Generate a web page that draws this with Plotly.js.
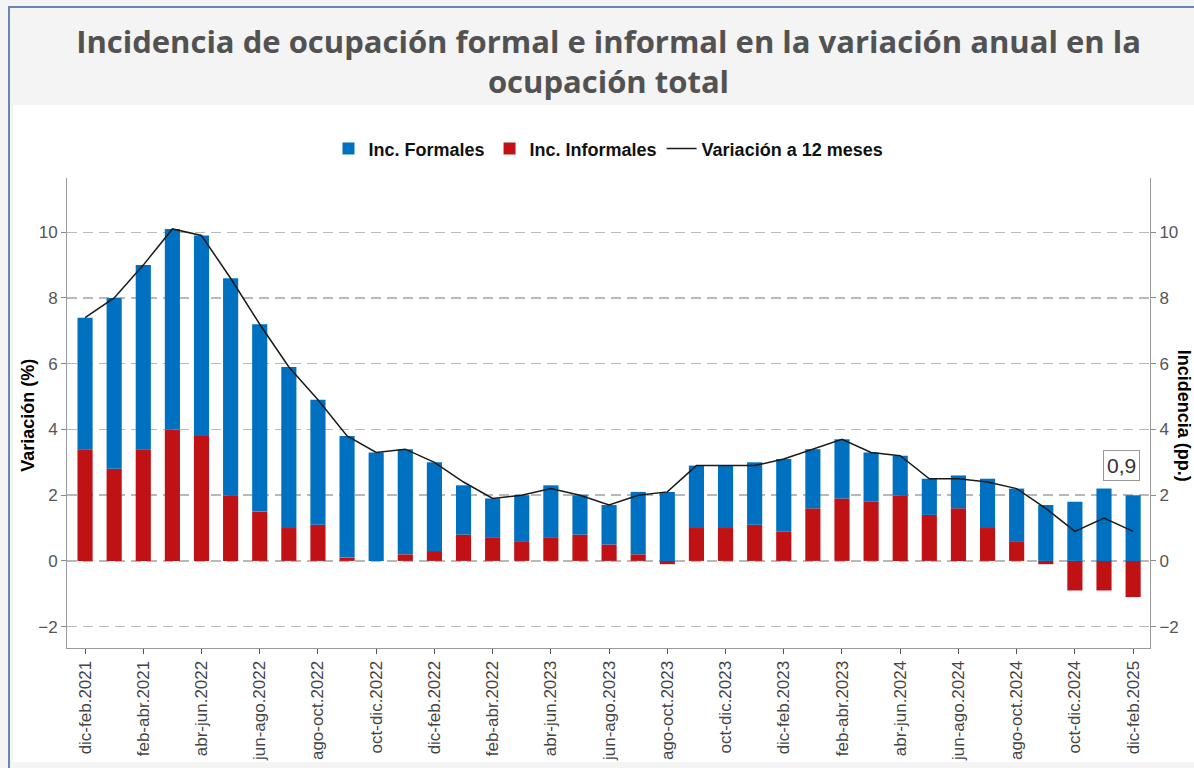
<!DOCTYPE html>
<html>
<head>
<meta charset="utf-8">
<script src="https://cdn.plot.ly/plotly-3.0.1.min.js"></script>
<style>
  html, body { margin: 0; padding: 0; background: #f4f4f4; }
  #frame { position: absolute; left: 8px; top: 6px; width: 1186px; height: 762px;
           border-left: 2px solid #6b85b5; border-top: 2px solid #6b85b5; box-sizing: border-box; }
  #white { position: absolute; left: 13px; top: 105px; width: 1181px; height: 657px; background: #ffffff; }
  #chart { position: absolute; left: 0; top: 0; width: 1194px; height: 768px; }
</style>
</head>
<body>
<div id="frame"></div>
<div id="white"></div>
<div id="chart"></div>
<script>
// Rolling quarters (tick labels as printed on the original chart)
const categories = [
  "dic-feb.2021","ene-mar.2021","feb-abr.2021","mar-may.2021","abr-jun.2022","may-jul.2022",
  "jun-ago.2022","jul-sep.2022","ago-oct.2022","sep-nov.2022","oct-dic.2022","nov-ene.2022",
  "dic-feb.2022","ene-mar.2022","feb-abr.2022","mar-may.2023","abr-jun.2023","may-jul.2023",
  "jun-ago.2023","jul-sep.2023","ago-oct.2023","sep-nov.2023","oct-dic.2023","nov-ene.2023",
  "dic-feb.2023","ene-mar.2023","feb-abr.2023","mar-may.2024","abr-jun.2024","may-jul.2024",
  "jun-ago.2024","jul-sep.2024","ago-oct.2024","sep-nov.2024","oct-dic.2024","nov-ene.2024",
  "dic-feb.2025"
];
const tickLabels = [
  "dic-feb.2021","feb-abr.2021","abr-jun.2022","jun-ago.2022","ago-oct.2022","oct-dic.2022",
  "dic-feb.2022","feb-abr.2022","abr-jun.2023","jun-ago.2023","ago-oct.2023","oct-dic.2023",
  "dic-feb.2023","feb-abr.2023","abr-jun.2024","jun-ago.2024","ago-oct.2024","oct-dic.2024",
  "dic-feb.2025"
];
// Incidence of formal employment (pp.)
const incFormales = [
  4.0,5.2,5.6,6.1,6.1,6.6,5.7,4.9,3.8,3.7,3.3,3.2,2.7,1.5,1.2,1.4,1.6,1.2,1.2,1.9,
  2.1,1.9,1.9,1.9,2.2,1.8,1.8,1.5,1.2,1.1,1.0,1.5,1.6,1.7,1.8,2.2,2.0
];
// Incidence of informal employment (pp.)
const incInformales = [
  3.4,2.8,3.4,4.0,3.8,2.0,1.5,1.0,1.1,0.1,0.0,0.2,0.3,0.8,0.7,0.6,0.7,0.8,0.5,0.2,
  -0.1,1.0,1.0,1.1,0.9,1.6,1.9,1.8,2.0,1.4,1.6,1.0,0.6,-0.1,-0.9,-0.9,-1.1
];
// Annual (12-month) variation of total employment (%)
const variacion12 = [
  7.4,8.0,9.0,10.1,9.9,8.6,7.2,5.9,4.9,3.8,3.3,3.4,3.0,2.4,1.9,2.0,2.2,2.0,1.7,2.0,
  2.1,2.9,2.9,2.9,3.1,3.4,3.7,3.3,3.2,2.5,2.5,2.4,2.2,1.6,0.9,1.3,0.9
];
const yTicks = [-2,0,2,4,6,8,10];

const blue = "#0070C0";
const red = "#C01214";
const lastIdx = variacion12.length - 1;
const lastLabel = variacion12[lastIdx].toFixed(1).replace(".", ",");
const sans = "Liberation Sans, Arial, sans-serif";

// Informal first so it stacks at the bottom; legend order fixed via legendrank
const traces = [
  { type: "bar", name: "Inc. Informales", x: categories, y: incInformales, legendrank: 2,
    marker: { color: red }, yaxis: "y", hoverinfo: "skip" },
  { type: "bar", name: "Inc. Formales", x: categories, y: incFormales, legendrank: 1,
    marker: { color: blue }, yaxis: "y", hoverinfo: "skip" },
  { type: "scatter", mode: "lines", name: "Variación a 12 meses", x: categories, y: variacion12,
    legendrank: 3, line: { color: "#1a1a1a", width: 1.5 }, yaxis: "y2", hoverinfo: "skip" }
];

const axisFont = { family: sans, size: 17, color: "#555555" };
const yRange = [-2.65, 11.65];

const layout = {
  width: 1194, height: 768,
  paper_bgcolor: "rgba(0,0,0,0)",
  plot_bgcolor: "#ffffff",
  margin: { l: 67, r: 44, t: 178, b: 120, pad: 0 },
  barmode: "relative",
  bargap: 0.48,
  showlegend: true,
  title: {
    text: "Incidencia de ocupación formal e informal en la variación anual en la<br>ocupación total",
    font: { family: "Open Sans, sans-serif", size: 31, color: "#525252", weight: "bold" },
    x: 0.5, xref: "paper", xanchor: "center",
    y: 0.931, yref: "container", yanchor: "middle"
  },
  legend: {
    orientation: "h", x: 0.5, xanchor: "center", y: 1.062, yanchor: "middle",
    font: { family: sans, size: 18, color: "#111111", weight: "bold" },
    bgcolor: "rgba(0,0,0,0)", itemwidth: 30, traceorder: "normal"
  },
  xaxis: {
    type: "category",
    categoryorder: "array", categoryarray: categories,
    range: [-0.62, categories.length - 1 + 0.58],
    tickmode: "array", tickvals: tickLabels, ticktext: tickLabels,
    tickangle: -90,
    tickfont: { family: sans, size: 17, color: "#444444" },
    ticks: "outside", ticklen: 5, tickcolor: "#555555", tickwidth: 1,
    showline: true, linecolor: "#9a9a9a", linewidth: 1,
    showgrid: false, zeroline: false, mirror: false
  },
  yaxis: {
    range: yRange, tickvals: yTicks,
    tickfont: axisFont,
    ticks: "outside", ticklen: 5, tickcolor: "#888888",
    showline: true, linecolor: "#9a9a9a", linewidth: 1,
    showgrid: true, gridcolor: "#b9b9b9", gridwidth: 1.4, griddash: "10px,6px",
    zeroline: false
  },
  yaxis2: {
    overlaying: "y", side: "right", anchor: "x",
    range: yRange, tickvals: yTicks,
    tickfont: axisFont,
    ticks: "outside", ticklen: 5, tickcolor: "#888888",
    showline: true, linecolor: "#9a9a9a", linewidth: 1,
    showgrid: false, zeroline: false
  },
  annotations: [
    { xref: "paper", yref: "paper", x: -0.036, y: 0.494, xanchor: "center", yanchor: "middle",
      showarrow: false, text: "Variación (%)", textangle: -90,
      font: { family: sans, size: 18, color: "#000000", weight: "bold" } },
    { xref: "paper", yref: "paper", x: 1.0315, y: 0.494, xanchor: "center", yanchor: "middle",
      showarrow: false, text: "Incidencia (pp.)", textangle: 90,
      font: { family: sans, size: 18, color: "#000000", weight: "bold" } },
    { xref: "x", yref: "y2", x: categories[lastIdx], y: variacion12[lastIdx],
      showarrow: false, text: lastLabel, xshift: -12, yshift: 66,
      font: { family: sans, size: 21, color: "#333333" },
      bordercolor: "#999999", borderwidth: 1, borderpad: 3, bgcolor: "#ffffff" }
  ]
};

Plotly.newPlot("chart", traces, layout, { displayModeBar: false, staticPlot: true });
</script>
</body>
</html>
